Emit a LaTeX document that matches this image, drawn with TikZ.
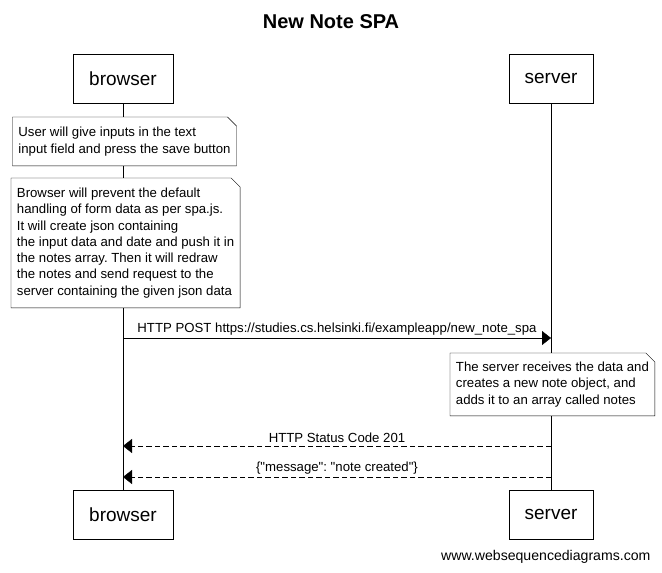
\documentclass[tikz,border=0pt]{standalone}
\usepackage{fontspec}
\setmainfont{Liberation Sans}
\usetikzlibrary{arrows.meta}
\usetikzlibrary{backgrounds}
\frenchspacing
\tikzset{
	title/.style={font=\fontsize{20}{22}\selectfont\bfseries},
	actor/.style={draw, minimum height=49pt, inner sep=0pt, font=\fontsize{19}{22}\selectfont},
	note/.style={anchor=north west, align=left, inner xsep=5.5pt, inner ysep=0pt, font=\fontsize{13.2}{16.3}\selectfont},
	msg/.style={above, inner sep=3pt, font=\fontsize{13.2}{15}\selectfont},
	call/.style={-{Triangle[length=9pt,width=14pt]}},
	reply/.style={call, dash pattern=on 5.5pt off 3pt},
}
\newcommand{\notebox}[1]{%
	\draw[fill=white] (#1.south west) -- (#1.north west) -- ([xshift=-9pt]#1.north east) -- ([yshift=-9pt]#1.north east) -- (#1.south east) -- cycle;
}
\begin{document}
\begin{tikzpicture}[x=1pt,y=-1pt,line width=0.9pt]
\useasboundingbox (0,0) rectangle (662,573);
\node[title] at (331,22) (title) {New Note SPA};
% participants
\node[actor, minimum width=100pt] at (123,78.5) (browser) {browser};
\node[actor, minimum width=84pt] at (551,78.5) (server) {server};
\node[actor, minimum width=100pt] at (123,514.5) (browserend) {browser};
\node[actor, minimum width=84pt] at (551,514.5) (serverend) {server};
% notes
\node[note, minimum height=48pt] at (12.5,117) (userinput) {User will give inputs in the text\\input field and press the save button};
\node[note, minimum height=129pt] at (11,178) (spajs) {Browser will prevent the default\\handling of form data as per spa.js.\\It will create json containing\\the input data and date and push it in\\the notes array. Then it will redraw\\the notes and send request to the\\server containing the given json data};
\node[note, minimum height=62pt] at (450,353) (servernote) {The server receives the data and\\creates a new note object, and\\adds it to an array called notes};
\begin{pgfonlayer}{background}
\draw (browser) -- (browserend);
\draw (server) -- (serverend);
\notebox{userinput}
\notebox{spajs}
\notebox{servernote}
\end{pgfonlayer}
% messages
\coordinate (b1) at (123,338);
\coordinate (s1) at (551,338);
\coordinate (b2) at (123,446);
\coordinate (s2) at (551,446);
\coordinate (b3) at (123,477);
\coordinate (s3) at (551,477);
\draw[call] (b1) -- (s1) node[msg, midway] {HTTP POST https://studies.cs.helsinki.fi/exampleapp/new\_note\_spa};
\draw[reply] (s2) -- (b2) node[msg, midway] {HTTP Status Code 201};
\draw[reply] (s3) -- (b3) node[msg, midway] {\{\textquotedbl message\textquotedbl: \textquotedbl note created\textquotedbl\}};
\node[anchor=east, font=\fontsize{14.1}{16}\selectfont] at (654,557) (footer) {www.websequencediagrams.com};
\end{tikzpicture}
\end{document}
